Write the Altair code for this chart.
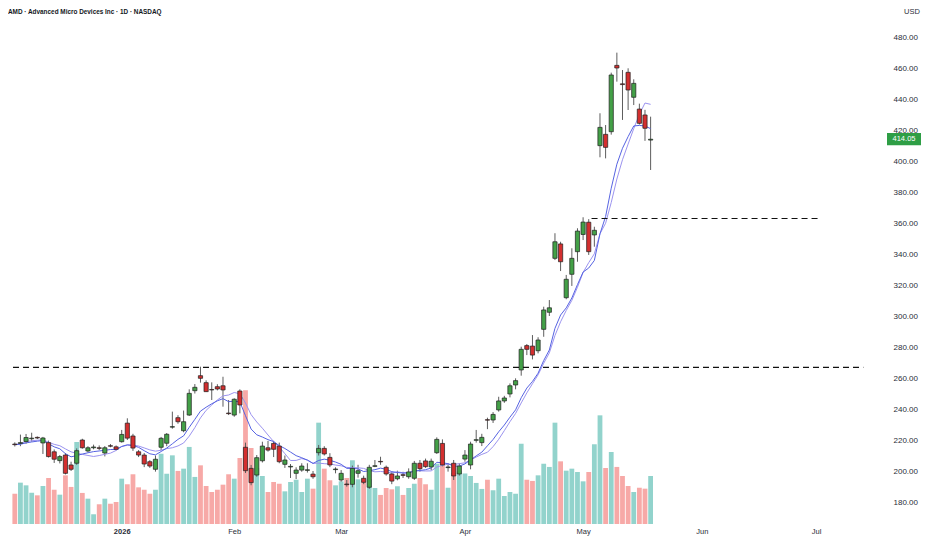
import altair as alt
import pandas as pd

# ---- data (AMD, daily, Dec 2025 - May 2026) ----
opens = [217.4, 217.8, 219.0, 220.8, 221.7, 218.1, 218.3, 212.4, 206.7, 210.3,
         203.9, 205.0, 220.0, 212.9, 215.0, 215.0, 211.6, 216.3, 215.6, 218.9,
         230.9, 222.6, 212.4, 210.3, 206.0, 201.1, 215.3, 217.9, 228.3, 234.4,
         226.0, 236.1, 251.8, 261.5, 257.0, 252.6, 254.4, 255.0, 237.4, 236.1,
         251.6, 215.3, 201.7, 197.4, 206.6, 215.0, 217.8, 216.1, 204.3, 202.6,
         198.5, 200.6, 200.4, 198.0, 211.8, 214.6, 208.8, 200.9, 194.2, 191.6,
         191.4, 198.5, 195.3, 189.5, 203.0, 206.2, 202.4, 198.1, 195.0, 197.6,
         196.3, 195.3, 205.0, 206.5, 202.6, 211.8, 217.8, 202.2, 205.0, 198.1,
         207.7, 203.9, 219.8, 218.3, 233.1, 232.9, 239.4, 245.2, 249.7, 255.5,
         265.2, 280.9, 280.6, 277.6, 291.4, 302.4, 337.2, 346.5, 311.8, 326.9,
         341.5, 352.6, 360.5, 352.3, 409.9, 417.2, 418.9, 461.7, 449.8, 457.2,
         441.1, 433.5, 429.7, 413.5]
highs = [218.5, 223.5, 223.9, 224.7, 222.3, 222.0, 219.6, 213.9, 210.3, 211.6,
         206.0, 214.6, 220.8, 216.0, 217.0, 216.5, 216.1, 217.4, 216.5, 226.5,
         234.0, 224.0, 213.5, 211.6, 207.0, 210.0, 222.0, 224.5, 238.3, 236.0,
         239.0, 252.7, 256.1, 267.3, 258.5, 257.2, 256.0, 260.8, 245.8, 246.9,
         252.7, 218.3, 203.9, 210.3, 218.9, 219.4, 219.5, 218.3, 210.0, 204.5,
         202.4, 205.0, 205.0, 200.0, 216.8, 216.0, 211.5, 202.4, 200.6, 194.2,
         203.5, 204.0, 197.0, 204.0, 207.1, 209.2, 203.5, 199.5, 200.2, 199.5,
         201.7, 206.5, 207.1, 208.0, 208.0, 221.7, 220.4, 205.0, 207.1, 205.0,
         213.5, 218.9, 226.5, 224.0, 234.4, 238.0, 247.9, 248.5, 256.5, 259.8,
         280.2, 281.9, 287.7, 286.3, 306.0, 310.3, 353.4, 347.9, 326.5, 343.7,
         356.6, 363.7, 362.5, 357.6, 430.8, 423.2, 457.0, 469.9, 458.7, 459.8,
         452.7, 437.0, 433.0, 428.6]
lows = [215.8, 216.0, 217.6, 219.0, 220.6, 211.0, 208.7, 205.2, 204.9, 197.8,
        200.0, 204.0, 214.4, 212.0, 214.0, 213.5, 209.4, 215.3, 213.3, 218.3,
        220.0, 213.0, 209.0, 202.5, 202.0, 199.6, 213.5, 216.0, 227.3, 230.5,
        225.0, 235.5, 250.0, 257.0, 251.0, 245.8, 252.0, 241.5, 236.1, 235.0,
        237.2, 198.7, 190.8, 196.3, 205.5, 212.5, 209.0, 205.0, 202.0, 195.5,
        194.8, 199.5, 199.0, 195.0, 210.0, 210.0, 202.5, 198.5, 193.1, 189.9,
        189.5, 195.7, 191.5, 188.5, 202.5, 204.0, 197.0, 191.5, 194.0, 195.5,
        195.0, 194.2, 199.5, 202.0, 200.6, 211.0, 203.0, 199.6, 194.2, 197.0,
        206.0, 201.1, 218.3, 216.1, 227.0, 231.0, 238.3, 244.0, 247.5, 252.7,
        261.5, 274.8, 272.0, 275.9, 286.6, 300.0, 336.1, 329.0, 310.8, 319.4,
        335.0, 349.0, 339.4, 344.7, 402.4, 401.7, 417.0, 451.2, 426.5, 432.9,
        436.1, 423.5, 413.0, 394.2]
closes = [217.0, 218.3, 221.6, 221.2, 221.3, 221.3, 209.3, 207.6, 209.3, 198.5,
          201.1, 213.1, 215.0, 215.0, 215.5, 214.6, 215.0, 216.0, 214.0, 223.6,
          221.2, 214.8, 210.3, 204.5, 203.2, 207.6, 221.1, 223.7, 228.6, 231.8,
          231.8, 250.1, 254.0, 259.8, 251.2, 252.3, 252.9, 252.3, 237.0, 246.3,
          242.6, 200.2, 192.5, 208.6, 216.1, 213.5, 214.0, 206.0, 207.1, 203.0,
          200.6, 203.2, 200.8, 196.3, 214.6, 211.0, 203.9, 201.3, 198.5, 191.2,
          201.7, 200.2, 192.7, 202.4, 203.4, 205.9, 198.1, 193.5, 196.8, 197.2,
          199.4, 205.0, 201.5, 202.8, 206.3, 220.4, 203.9, 202.6, 196.8, 203.2,
          210.3, 217.4, 220.2, 221.7, 232.8, 236.5, 245.2, 247.1, 255.0, 258.3,
          278.5, 278.5, 274.8, 284.5, 303.9, 305.3, 347.9, 335.0, 323.7, 337.2,
          354.8, 360.6, 341.5, 355.3, 421.7, 408.8, 455.5, 460.0, 449.3, 445.8,
          450.1, 424.3, 421.1, 414.05]
volumes_m = [22.7, 31.0, 29.0, 23.5, 21.5, 28.5, 34.5, 25.7, 22.0, 36.5,
             27.8, 61.5, 23.3, 19.0, 7.3, 14.8, 19.0, 15.2, 16.5, 34.0,
             29.8, 37.3, 27.5, 25.7, 22.7, 25.7, 52.7, 37.7, 51.5, 39.8,
             41.5, 57.8, 35.3, 44.0, 28.5, 24.0, 25.7, 29.5, 37.3, 34.0,
             49.5, 100.3, 57.0, 42.0, 36.0, 24.0, 31.5, 30.2, 24.5, 31.5,
             33.2, 24.0, 34.0, 26.5, 76.0, 41.5, 32.8, 29.0, 32.0, 34.5,
             47.8, 33.5, 32.0, 33.5, 27.0, 21.8, 27.0, 26.0, 28.3, 21.8,
             27.0, 30.2, 34.5, 29.8, 25.7, 45.2, 46.0, 27.2, 38.3, 39.5,
             37.9, 36.0, 30.8, 26.3, 33.2, 25.3, 34.0, 21.0, 24.0, 22.7,
             60.2, 33.2, 32.3, 36.5, 45.2, 42.8, 76.0, 47.0, 40.0, 41.5,
             39.0, 32.0, 39.0, 59.8, 81.5, 42.0, 54.0, 42.8, 36.0, 28.5,
             24.0, 27.2, 26.5, 36.0]

# month tick labels (bar index of first trading day of the month)
x_tick_pos = [19, 39, 58, 80, 101, 122.1, 142.4]
x_tick_labels = ["2026", "Feb", "Mar", "Apr", "May", "Jun", "Jul"]
price_ticks = [180, 200, 220, 240, 260, 280, 300, 320, 340, 360, 380, 400, 420, 440, 460, 480]

# horizontal dashed levels
level_prices = [266.8, 362.9]
level_start = [-0.32, 102.5]
level_end = [150.8, 142.8]

title_text = "AMD · Advanced Micro Devices Inc · 1D · NASDAQ"
currency = "USD"

SMA_LEN = 9
EMA_LEN = 9

# EMA indicator of the closes (as the charting tool computes it)
alpha = 2.0 / (EMA_LEN + 1)
ema = []
for c in closes:
    ema.append(c if not ema else ema[-1] + alpha * (c - ema[-1]))

df = pd.DataFrame({
    "i": list(range(len(closes))),
    "open": opens, "high": highs, "low": lows, "close": closes,
    "vol": volumes_m, "ema": ema,
})
df["up"] = df["close"] >= df["open"]

levels = pd.DataFrame({"p": level_prices, "x0": level_start, "x1": level_end})
last = df.tail(1)

W, H = 862, 516
FONT = "Liberation Sans"
TXT = "#2a2e39"

xscale = alt.Scale(domain=[-0.32, 151.1], nice=False, zero=False)
yscale = alt.Scale(domain=[165.81, 498.71], nice=False, zero=False)
vscale = alt.Scale(domain=[0, 387], nice=False)

label_expr = "[" + ",".join("'%s'" % s for s in x_tick_labels) + "][indexof([" + \
    ",".join(str(v) for v in x_tick_pos) + "], datum.value)]"

x_axis = alt.Axis(values=x_tick_pos, labelExpr=label_expr, grid=False, domain=False,
                  ticks=False, labelPadding=3, labelFontSize=7.5,
                  labelColor=TXT, labelFont=FONT, title="", labelFlush=False,
                  labelOverlap=False,
                  labelFontWeight={"condition": {"test": "datum.value == 19", "value": "bold"},
                                   "value": "normal"})
y_axis = alt.Axis(orient="right", values=price_ticks, format=".2f", grid=False,
                  domain=False, ticks=False, labelPadding=23,
                  labelAlign="left", labelFontSize=8, labelColor=TXT, labelFont=FONT,
                  title="", labelFlush=False, labelOverlap=False)


def X(field):
    return alt.X(field, scale=xscale, axis=x_axis)


def Y(field):
    return alt.Y(field, scale=yscale, axis=y_axis)


base = alt.Chart(df)

volume = base.mark_bar(orient="vertical", width=4.8).encode(
    x=X("i:Q"),
    y=alt.Y("vol:Q", scale=vscale, axis=None),
    color=alt.condition("datum.up", alt.value("#92d3cc"), alt.value("#f7a9a7")),
)

wicks = base.mark_rule(color="#5d5d5d", strokeWidth=1).encode(
    x=X("i:Q"), y=Y("low:Q"), y2="high:Q",
)

sma_line = base.transform_window(
    sma="mean(close)", frame=[-(SMA_LEN - 1), 0], sort=[alt.SortField("i")]
).mark_line(color="#9b93ef", strokeWidth=1).encode(x=X("i:Q"), y=Y("sma:Q"))

ema_line = base.mark_line(color="#5663e2", strokeWidth=1).encode(x=X("i:Q"), y=Y("ema:Q"))

bodies = base.mark_bar(orient="vertical", width=4.2, stroke="#1f1f1f", strokeWidth=0.7).encode(
    x=X("i:Q"), y=Y("open:Q"), y2="close:Q",
    color=alt.condition("datum.up", alt.value("#43a047"), alt.value("#d32f2f")),
)

level_rules = alt.Chart(levels).mark_rule(
    color="#111111", strokeWidth=1.2, strokeDash=[6, 4], clip=True
).encode(x=X("x0:Q"), x2="x1:Q", y=Y("p:Q"))

badge = alt.Chart(last).mark_point(
    shape="M-1,-0.36H1V0.36H-1Z", size=1156, filled=True, opacity=1,
    color="#2e9e45", strokeWidth=0
).encode(x=alt.value(W + 34), y=Y("close:Q"))

badge_text = alt.Chart(last).mark_text(
    color="white", fontSize=7.5, font=FONT, align="center", baseline="middle"
).encode(
    x=alt.value(W + 34), y=Y("close:Q"),
    text=alt.Text("close:Q", format=".2f"),
)

title_mark = alt.Chart(pd.DataFrame({"t": [title_text]})).mark_text(
    align="left", baseline="middle", fontSize=6.4, fontWeight=600, font=FONT, color="#131722"
).encode(x=alt.value(0), y=alt.value(4), text="t:N")

usd_mark = alt.Chart(pd.DataFrame({"t": [currency]})).mark_text(
    align="center", baseline="middle", fontSize=7.5, font=FONT, color=TXT
).encode(x=alt.value(W + 42), y=alt.value(4), text="t:N")

price_layer = alt.layer(wicks, sma_line, ema_line, bodies, level_rules,
                        badge, badge_text, title_mark, usd_mark)

chart = alt.layer(volume, price_layer).resolve_scale(y="independent").properties(
    width=W, height=H,
    autosize=alt.AutoSizeParams(type="none"),
    padding={"left": 0, "top": 0, "right": 54, "bottom": 12},
    background="white",
).configure_view(strokeWidth=0)

chart.save("out.html", embed_options={"renderer": "svg", "actions": False})
